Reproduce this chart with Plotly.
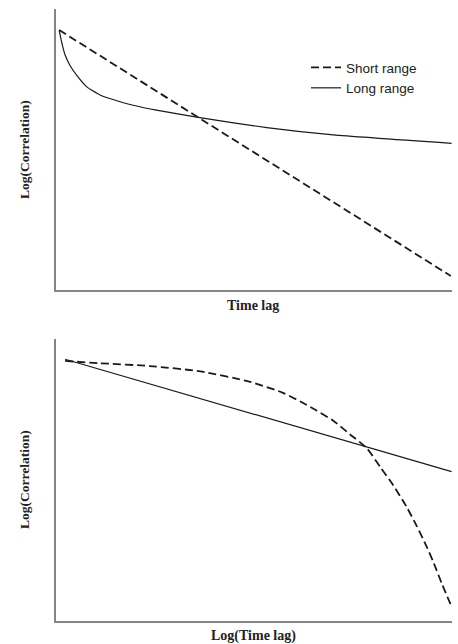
import plotly.graph_objects as go

# ---- data (arbitrary units, 0-10 scale) ----
top_short_x = [0.08, 9.97]
top_short_y = [9.25, 0.50]

top_long_x = [0.08, 0.14, 0.23, 0.35, 0.52, 0.78, 1.11, 1.62, 2.12, 2.50, 3.55, 5.32, 7.00, 9.99]
top_long_y = [9.25, 8.84, 8.36, 8.00, 7.65, 7.23, 6.94, 6.70, 6.52, 6.41, 6.15, 5.78, 5.52, 5.22]

bot_short_x = [0.23, 1.11, 2.37, 3.64, 4.90, 5.73, 6.16, 6.58, 7.00, 7.42, 7.85, 8.20, 8.52,
               8.85, 9.11, 9.35, 9.53, 9.75, 9.99]
bot_short_y = [9.22, 9.14, 9.04, 8.85, 8.48, 8.09, 7.79, 7.46, 7.10, 6.62, 6.12, 5.43, 4.80,
               4.05, 3.36, 2.66, 2.08, 1.29, 0.50]

bot_long_x = [0.23, 9.99]
bot_long_y = [9.28, 5.29]

series_names = ["Short range", "Long range"]
x_titles = ["Time lag", "Log(Time lag)"]
y_title = "Log(Correlation)"

W, H = 458, 644
ink = "#1a1a1a"
axis_col = "#858585"
dash = "8px,4px"

fig = go.Figure()
fig.add_trace(go.Scatter(x=top_short_x, y=top_short_y, mode="lines", name=series_names[0],
                         line=dict(color=ink, width=1.8, dash=dash), xaxis="x", yaxis="y"))
fig.add_trace(go.Scatter(x=top_long_x, y=top_long_y, mode="lines", name=series_names[1],
                         line=dict(color=ink, width=1.2, shape="spline", smoothing=0.5), xaxis="x", yaxis="y"))
fig.add_trace(go.Scatter(x=bot_short_x, y=bot_short_y, mode="lines", showlegend=False,
                         line=dict(color=ink, width=1.8, dash=dash, shape="spline", smoothing=0.6),
                         xaxis="x2", yaxis="y2"))
fig.add_trace(go.Scatter(x=bot_long_x, y=bot_long_y, mode="lines", showlegend=False,
                         line=dict(color=ink, width=1.2), xaxis="x2", yaxis="y2"))

xdom = [56 / W, 452 / W]
ydom_top = [1 - 290 / H, 1 - 9 / H]
ydom_bot = [1 - 620.7 / H, 1 - 339 / H]

ax_common = dict(showline=True, linecolor=axis_col, linewidth=2, showgrid=False, zeroline=False,
                 ticks="", showticklabels=False, range=[0, 10], fixedrange=True)

fig.update_layout(
    width=W, height=H,
    margin=dict(l=0, r=0, t=0, b=0),
    paper_bgcolor="white", plot_bgcolor="white",
    showlegend=True,
    legend=dict(x=306 / W, y=1 - 52 / H, xanchor="left", yanchor="top",
                font=dict(family="Liberation Sans, Arial, sans-serif", size=13.5, color="#222222"),
                bgcolor="rgba(0,0,0,0)", itemwidth=30, tracegroupgap=0),
    xaxis=dict(domain=xdom, anchor="y", **ax_common),
    yaxis=dict(domain=ydom_top, anchor="x", **ax_common),
    xaxis2=dict(domain=xdom, anchor="y2", **ax_common),
    yaxis2=dict(domain=ydom_bot, anchor="x2", **ax_common),
)

title_font_x = dict(family="Liberation Serif, Times New Roman, serif", size=14, color="#222222")
title_font_y = dict(family="Liberation Serif, Times New Roman, serif", size=13.5, color="#222222")

annotations = [
    dict(text="<b>%s</b>" % x_titles[0], xref="paper", yref="paper", x=253 / W, y=1 - 306 / H,
         showarrow=False, font=title_font_x, xanchor="center", yanchor="middle"),
    dict(text="<b>%s</b>" % x_titles[1], xref="paper", yref="paper", x=253 / W, y=1 - 636 / H,
         showarrow=False, font=title_font_x, xanchor="center", yanchor="middle"),
    dict(text="<b>%s</b>" % y_title, xref="paper", yref="paper", x=24 / W, y=1 - 150 / H,
         showarrow=False, font=title_font_y, textangle=-90, xanchor="center", yanchor="middle"),
    dict(text="<b>%s</b>" % y_title, xref="paper", yref="paper", x=24 / W, y=1 - 480 / H,
         showarrow=False, font=title_font_y, textangle=-90, xanchor="center", yanchor="middle"),
]
fig.update_layout(annotations=annotations)

fig.write_html("out.html", config={"displayModeBar": False},
               post_script="document.body.style.margin='0';document.body.style.overflow='hidden';")
